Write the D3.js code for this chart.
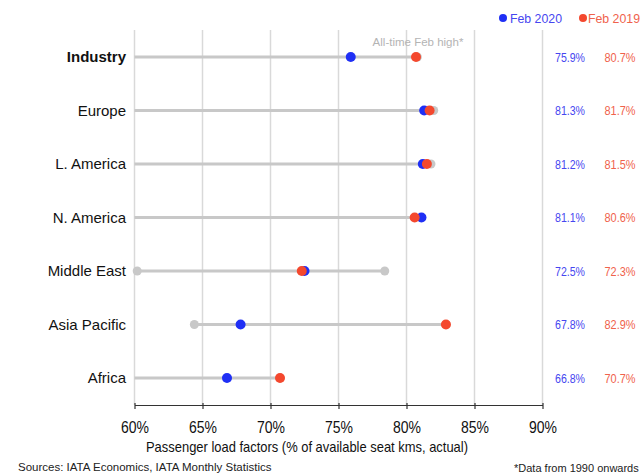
<!DOCTYPE html>
<html><head><meta charset="utf-8">
<script src="https://cdn.jsdelivr.net/npm/d3@7"></script>
<style>
body{margin:0;background:#fff;}
svg{display:block;}
</style></head>
<body>
<svg id="chart" width="642" height="474"></svg>
<script>
const categories = ["Industry","Europe","L. America","N. America","Middle East","Asia Pacific","Africa"];
const feb2020 = [75.9, 81.3, 81.2, 81.1, 72.5, 67.8, 66.8];
const feb2019 = [80.7, 81.7, 81.5, 80.6, 72.3, 82.9, 70.7];
const allTimeHigh = [80.8, 82.0, 81.8, 81.1, 78.4, 82.9, 70.7];
const allTimeLow = [null, null, null, null, 60.2, 64.4, null];
const xTicks = [60, 65, 70, 75, 80, 85, 90];
const seriesNames = ["Feb 2020", "Feb 2019"];

const blue = "#1f2ff5", red = "#f4482e", grey = "#c8c8c8";
const blueText = "#4646f0", redText = "#f0624c";
const ff = "'Liberation Sans',Arial,sans-serif";

const svg = d3.select("#chart");
const x = d3.scaleLinear().domain([60, 90]).range([134.5, 542.5]);
const y = d3.scalePoint().domain(categories).range([57, 378]);
const plotTop = 30, axisY = 405;

// gridlines
svg.append("g").selectAll("line").data(xTicks).join("line")
  .attr("x1", d => x(d)).attr("x2", d => x(d))
  .attr("y1", plotTop).attr("y2", axisY)
  .attr("stroke", "#d9d9d9").attr("stroke-width", 1.5);

// axis
const axis = d3.axisBottom(x).tickValues(xTicks).tickFormat(d => d + "%").tickSize(4).tickSizeOuter(0);
const ag = svg.append("g").attr("transform", `translate(0,${axisY})`).call(axis);
ag.select(".domain").attr("stroke", "#333").attr("stroke-width", 1.2);
ag.selectAll(".tick line").attr("stroke", "#333").attr("stroke-width", 1.2).attr("y1", -2);
ag.selectAll(".tick text").attr("dy", 0).attr("y", 28)
  .attr("textLength", 28).attr("lengthAdjust", "spacingAndGlyphs")
  .style("font-family", ff).style("font-size", "16px").attr("fill", "#111");

svg.append("text").attr("x", 307).attr("y", 452).attr("text-anchor", "middle")
  .attr("textLength", 322).attr("lengthAdjust", "spacingAndGlyphs")
  .style("font-family", ff).style("font-size", "14.5px").attr("fill", "#111")
  .text("Passenger load factors (% of available seat kms, actual)");

const rows = categories.map((c, i) => ({c, i, v20: feb2020[i], v19: feb2019[i], hi: allTimeHigh[i], lo: allTimeLow[i]}));

// range lines
svg.append("g").selectAll("line").data(rows).join("line")
  .attr("x1", d => x(d.lo == null ? 60 : d.lo))
  .attr("x2", d => x(d.hi))
  .attr("y1", d => y(d.c)).attr("y2", d => y(d.c))
  .attr("stroke", grey).attr("stroke-width", 3);

// grey endpoint dots
svg.append("g").selectAll("circle").data(rows).join("circle")
  .attr("cx", d => x(d.hi)).attr("cy", d => y(d.c)).attr("r", 4.5).attr("fill", grey);
svg.append("g").selectAll("circle").data(rows.filter(d => d.lo != null)).join("circle")
  .attr("cx", d => x(d.lo)).attr("cy", d => y(d.c)).attr("r", 4.5).attr("fill", grey);

// 2020 then 2019 dots
svg.append("g").selectAll("circle").data(rows).join("circle")
  .attr("cx", d => x(d.v20)).attr("cy", d => y(d.c)).attr("r", 5).attr("fill", blue);
svg.append("g").selectAll("circle").data(rows).join("circle")
  .attr("cx", d => x(d.v19)).attr("cy", d => y(d.c)).attr("r", 5).attr("fill", red);

// category labels
svg.append("g").selectAll("text").data(rows).join("text")
  .attr("x", 126).attr("y", d => y(d.c)).attr("dy", "0.35em").attr("text-anchor", "end")
  .style("font-family", ff).style("font-size", "15px")
  .style("font-weight", d => d.i === 0 ? "bold" : "normal")
  .attr("fill", "#111").text(d => d.c);

// value labels
svg.append("g").selectAll("text").data(rows).join("text")
  .attr("x", 570).attr("y", d => y(d.c)).attr("dy", "0.35em").attr("text-anchor", "middle")
  .attr("textLength", 30).attr("lengthAdjust", "spacingAndGlyphs")
  .style("font-family", ff).style("font-size", "13px").attr("fill", blueText)
  .text(d => d.v20.toFixed(1) + "%");
svg.append("g").selectAll("text").data(rows).join("text")
  .attr("x", 620).attr("y", d => y(d.c)).attr("dy", "0.35em").attr("text-anchor", "middle")
  .attr("textLength", 31).attr("lengthAdjust", "spacingAndGlyphs")
  .style("font-family", ff).style("font-size", "13px").attr("fill", redText)
  .text(d => d.v19.toFixed(1) + "%");

// annotation
svg.append("text").attr("x", 418).attr("y", 46).attr("text-anchor", "middle")
  .style("font-family", ff).style("font-size", "11.5px")
  .attr("fill", "#b4b4b4").text("All-time Feb high*");

// legend
const leg = [{n: seriesNames[0], col: blue, tc: blueText, cx: 503, tx: 510},
             {n: seriesNames[1], col: red, tc: redText, cx: 583, tx: 588}];
const lg = svg.append("g").selectAll("g").data(leg).join("g");
lg.append("circle").attr("cx", d => d.cx).attr("cy", 18).attr("r", 4).attr("fill", d => d.col);
lg.append("text").attr("x", d => d.tx).attr("y", 18).attr("dy", "0.35em")
  .attr("textLength", 52).attr("lengthAdjust", "spacingAndGlyphs")
  .style("font-family", ff).style("font-size", "13px")
  .attr("fill", d => d.tc).text(d => d.n);

// footer
svg.append("text").attr("x", 18).attr("y", 471)
  .style("font-family", ff).style("font-size", "11.5px")
  .attr("fill", "#222").text("Sources: IATA Economics, IATA Monthly Statistics");
svg.append("text").attr("x", 514).attr("y", 472)
  .style("font-family", ff).style("font-size", "11px")
  .attr("fill", "#222").text("*Data from 1990 onwards");
</script>
</body></html>
